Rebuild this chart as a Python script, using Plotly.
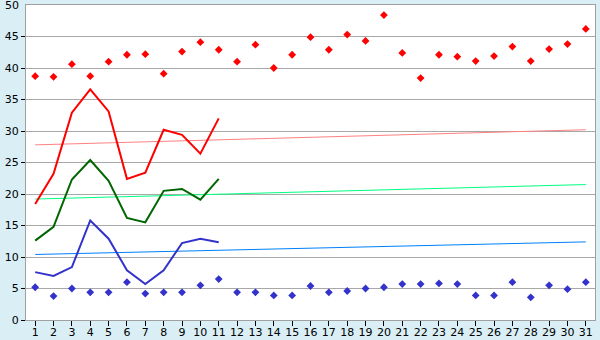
import plotly.graph_objects as go

days = list(range(1, 32))
max_pts = [38.7, 38.6, 40.6, 38.7, 41.0, 42.1, 42.2, 39.1, 42.6, 44.1, 42.9, 41.0, 43.7, 40.0, 42.1,
           44.9, 42.9, 45.3, 44.3, 48.4, 42.4, 38.4, 42.1, 41.8, 41.1, 41.9, 43.4, 41.1, 43.0, 43.8, 46.2]
min_pts = [5.2, 3.8, 5.0, 4.4, 4.4, 6.0, 4.2, 4.4, 4.4, 5.5, 6.5, 4.4, 4.4, 3.9, 3.9,
           5.4, 4.4, 4.6, 5.0, 5.2, 5.7, 5.7, 5.8, 5.7, 3.9, 3.9, 6.0, 3.6, 5.5, 4.9, 6.0]
line_days = list(range(1, 12))
red_line = [18.4, 23.2, 32.9, 36.6, 33.1, 22.4, 23.4, 30.2, 29.4, 26.4, 32.0]
green_line = [12.6, 14.8, 22.3, 25.4, 22.1, 16.2, 15.5, 20.5, 20.8, 19.1, 22.4]
blue_line = [7.6, 7.0, 8.4, 15.8, 12.9, 7.9, 5.7, 7.9, 12.2, 12.9, 12.35]
trend_days = [1, 31]
red_trend = [27.8, 30.2]
green_trend = [19.2, 21.5]
blue_trend = [10.4, 12.4]
y_ticks = list(range(0, 50, 5))
y_top = 50

fig = go.Figure()
fig.add_trace(go.Scatter(x=trend_days, y=red_trend, mode="lines", line=dict(color="#FF8080", width=1)))
fig.add_trace(go.Scatter(x=trend_days, y=green_trend, mode="lines", line=dict(color="#00FF80", width=1)))
fig.add_trace(go.Scatter(x=trend_days, y=blue_trend, mode="lines", line=dict(color="#0080FF", width=1)))
fig.add_trace(go.Scatter(x=line_days, y=red_line, mode="lines", line=dict(color="#FF0000", width=2)))
fig.add_trace(go.Scatter(x=line_days, y=green_line, mode="lines", line=dict(color="#006600", width=2)))
fig.add_trace(go.Scatter(x=line_days, y=blue_line, mode="lines", line=dict(color="#3333CC", width=2)))
fig.add_trace(go.Scatter(x=days, y=max_pts, mode="markers",
                         marker=dict(symbol="diamond", size=6, color="#FF0000")))
fig.add_trace(go.Scatter(x=days, y=min_pts, mode="markers",
                         marker=dict(symbol="diamond", size=6, color="#3333CC")))

fig.add_annotation(x=0, xref="paper", y=y_top, yref="y", text=str(y_top), showarrow=False,
                   xanchor="right", yanchor="middle", xshift=-5,
                   font=dict(family="DejaVu Sans", size=11, color="#000000"))

fig.update_layout(
    width=600, height=340,
    margin=dict(l=26, r=5, t=5, b=20, autoexpand=False),
    paper_bgcolor="#D9EEF5",
    plot_bgcolor="#FFFFFF",
    showlegend=False,
    font=dict(family="DejaVu Sans", size=11, color="#000000"),
)
fig.update_xaxes(
    range=[0.5, 31.5], tickmode="array", tickvals=days, ticktext=[str(d) for d in days],
    showgrid=False, zeroline=False, showline=True, linecolor="#A0A0A0", linewidth=1,
    mirror=True, ticks="outside", ticklen=5, tickcolor="#000000", automargin=False,
    ticklabelstandoff=-3,
)
fig.update_yaxes(
    range=[0, 50], tickmode="array", tickvals=y_ticks, ticktext=[str(t) for t in y_ticks],
    showgrid=True, gridcolor="#A8A8A8", gridwidth=1, zeroline=False,
    showline=True, linecolor="#A0A0A0", linewidth=1, mirror=True,
    ticks="outside", ticklen=4, tickcolor="#000000", automargin=False,
)
fig.write_html("out.html")
